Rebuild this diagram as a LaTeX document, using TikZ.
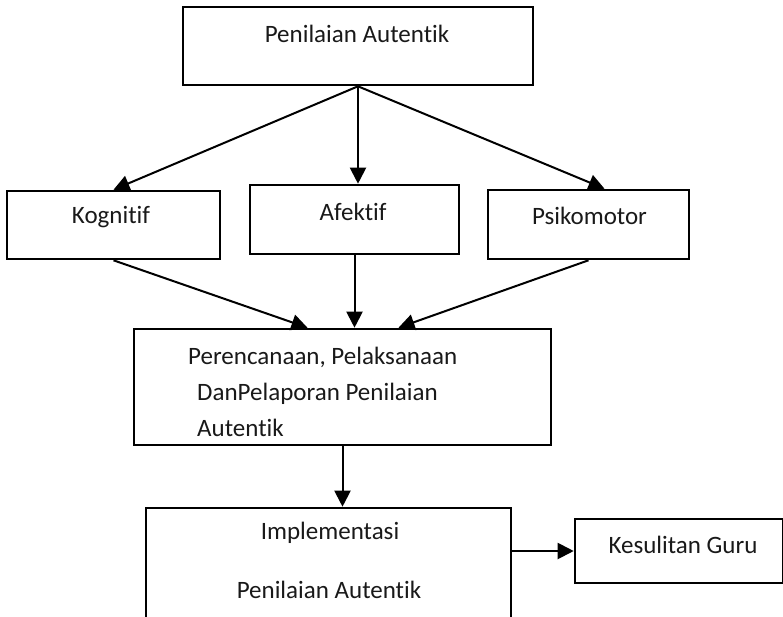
\documentclass[tikz,border=0pt]{standalone}
\usepackage{fontspec}
\setmainfont{Carlito}[Ligatures={NoCommon}]
\usetikzlibrary{arrows.meta, positioning, calc}

\begin{document}
\begin{tikzpicture}[
    x=1pt, y=-1pt,
    box/.style={draw, line width=2.6pt, inner sep=0pt},
    txt/.style={inner sep=0pt, anchor=base, font=\fontsize{25}{29}\selectfont, text=black!90},
    arrow/.style={-{Triangle[length=16pt,width=16pt]}, line width=2pt}
]
\useasboundingbox (0,0) rectangle (783,616);
\clip (0,0) rectangle (783,616);

\node[box, minimum width=350pt, minimum height=78pt] (top) at (358,46) {};
\node[box, minimum width=213pt, minimum height=68pt] (kog) at (113.5,225) {};
\node[box, minimum width=209pt, minimum height=69pt] (afek) at (354.5,219.5) {};
\node[box, minimum width=201pt, minimum height=69pt] (psik) at (588.5,224.5) {};
\node[box, minimum width=417pt, minimum height=116pt] (mid) at (342.5,387) {};
\node[box, minimum width=365pt, minimum height=140pt] (impl) at (328.5,578) {};
\node[box, minimum width=208pt, minimum height=64pt] (kes) at (679,551) {};

% texts
\node[txt] (topT) at (357,42) {Penilaian Autentik};
\node[txt] (kogT) at (111,223) {Kognitif};
\node[txt] (afekT) at (353,220) {Afektif};
\node[txt] (psikT) at (589.5,224) {Psikomotor};
\node[txt, anchor=base west] (midA) at (188,364) {Perencanaan, Pelaksanaan};
\node[txt, anchor=base west] (midB) at (197,400) {DanPelaporan Penilaian};
\node[txt, anchor=base west] (midC) at (197,436) {Autentik};
\node[txt] (implA) at (330,539) {Implementasi};
\node[txt] (implB) at (329,598) {Penilaian Autentik};
\node[txt] (kesT) at (683,553) {Kesulitan Guru};

\draw[arrow] (top.south) -- (kog.north);
\draw[arrow] (top.south) -- (top.south |- afek.north);
\draw[arrow] (top.south) -- ([xshift=16pt]psik.north);

\draw[arrow] (kog.south) -- ([xshift=-35pt]mid.north);
\draw[arrow] (afek.south) -- (afek.south |- mid.north);
\draw[arrow] (psik.south) -- ([xshift=56pt]mid.north);

\draw[arrow] (mid.south) -- (mid.south |- impl.north);
\draw[arrow] (impl.east |- kes.west) -- (kes.west);

\end{tikzpicture}
\end{document}
